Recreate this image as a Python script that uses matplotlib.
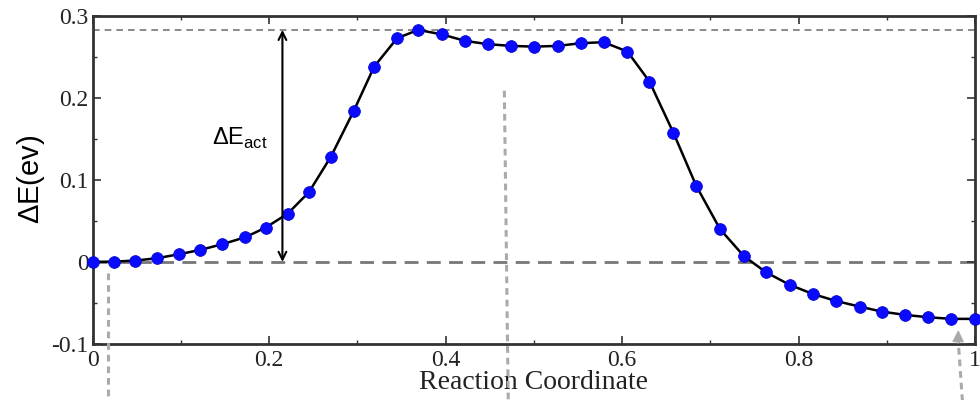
import matplotlib
matplotlib.use("Agg")
import matplotlib.pyplot as plt
from matplotlib.ticker import MultipleLocator

plt.rcParams["mathtext.fontset"] = "custom"
plt.rcParams["mathtext.rm"] = "Liberation Sans"

# reaction coordinate and energy of the images
coord = [0.000, 0.0245, 0.048, 0.073, 0.098, 0.122, 0.147, 0.173, 0.196, 0.221,
         0.245, 0.270, 0.296, 0.319, 0.345, 0.369, 0.396, 0.422, 0.448, 0.474,
         0.500, 0.527, 0.553, 0.579, 0.606, 0.631, 0.658, 0.684, 0.711, 0.738,
         0.763, 0.790, 0.816, 0.842, 0.869, 0.894, 0.921, 0.947, 0.973, 1.000]
energy = [0.0000, 0.0004, 0.0016, 0.0045, 0.0094, 0.0146, 0.0216, 0.0301, 0.0418, 0.0588,
          0.0849, 0.1283, 0.1843, 0.2379, 0.2725, 0.2826, 0.2770, 0.2692, 0.2652, 0.2631,
          0.2622, 0.2631, 0.2664, 0.2676, 0.2562, 0.2196, 0.1575, 0.0926, 0.0398, 0.0070,
          -0.0126, -0.0280, -0.0390, -0.0475, -0.0544, -0.0605, -0.0646, -0.0674, -0.0694, -0.0694]

xticks = [0, 0.2, 0.4, 0.6, 0.8, 1.0]
xticklabels = ["0", "0.2", "0.4", "0.6", "0.8", "1"]
yticks = [-0.1, 0, 0.1, 0.2, 0.3]
yticklabels = ["-0.1", "0", "0.1", "0.2", "0.3"]

e_max = max(energy)
arrow_x = 0.215
label_pos = (0.167, 0.150)

# stray grey dashed guide lines of the original figure (data coords)
guide1_x, guide1_y = [0.017, 0.017], [-0.013, -0.175]
guide2_x, guide2_y = [0.4665, 0.471], [0.2085, -0.175]
guide3_tip, guide3_tail = (0.981, -0.083), (0.986, -0.175)

fig = plt.figure(figsize=(9.8, 4), dpi=100)
ax = fig.add_axes([0.0946, 0.14, 0.9004, 0.821])

ax.axhline(0, color="#777777", lw=2, dashes=(5, 3), zorder=1)
ax.axhline(e_max, color="#777777", lw=1.2, dashes=(4, 3), zorder=1)

ax.plot(coord, energy, color="black", lw=1.8, zorder=2)
ax.plot(coord, energy, "o", color="#0a0aff", ms=8.5, mec="#0000cc", mew=0.5, zorder=3,
        clip_on=False)

ax.annotate("", xy=(arrow_x, e_max), xytext=(arrow_x, 0),
            arrowprops=dict(arrowstyle="<->", color="black", lw=1.5,
                            shrinkA=0, shrinkB=0, mutation_scale=14))
ax.text(label_pos[0], label_pos[1], r"$\Delta$E$_{\rm act}$", fontsize=17,
        family="Liberation Sans", ha="center", va="center")

gkw = dict(color="#aaaaaa", lw=2.2, clip_on=False, zorder=4)
ax.plot(guide1_x, guide1_y, dashes=(2.2, 1.6), **gkw)
ax.plot(guide2_x, guide2_y, dashes=(2.2, 1.6), **gkw)
ax.plot([guide3_tail[0], guide3_tip[0]], [guide3_tail[1], guide3_tip[1] - 0.015],
        dashes=(2.2, 1.6), **gkw)
ax.annotate("", xy=guide3_tip, xytext=(guide3_tip[0] - 0.0003, guide3_tip[1] - 0.016),
            annotation_clip=False,
            arrowprops=dict(arrowstyle="-|>", color="#aaaaaa", lw=1,
                            shrinkA=0, shrinkB=0, mutation_scale=18))

ax.set_xlim(0, 1)
ax.set_ylim(-0.1, 0.3)
ax.set_xticks(xticks)
ax.set_xticklabels(xticklabels)
ax.set_yticks(yticks)
ax.set_yticklabels(yticklabels)
ax.xaxis.set_minor_locator(MultipleLocator(0.1))
ax.yaxis.set_minor_locator(MultipleLocator(0.05))

ax.tick_params(which="both", direction="in", top=True, right=True, color="#333333")
ax.tick_params(which="major", length=6, width=1.2, pad=4, labelsize=17)
ax.tick_params(which="minor", length=3, width=1)
ax.tick_params(axis="y", pad=3)
for lab in ax.get_xticklabels() + ax.get_yticklabels():
    lab.set_family("Liberation Serif")
    lab.set_color("#222222")
for sp in ax.spines.values():
    sp.set_linewidth(2)
    sp.set_color("#333333")

ax.set_xlabel("Reaction Coordinate", fontsize=20, family="Liberation Serif", color="#222222")
ax.set_ylabel(r"$\Delta$E(ev)", fontsize=21, family="Liberation Sans")
ax.xaxis.set_label_coords(0.5, -0.079)
ax.yaxis.set_label_coords(-0.052, 0.5)

fig.savefig("out.png", dpi=100)
